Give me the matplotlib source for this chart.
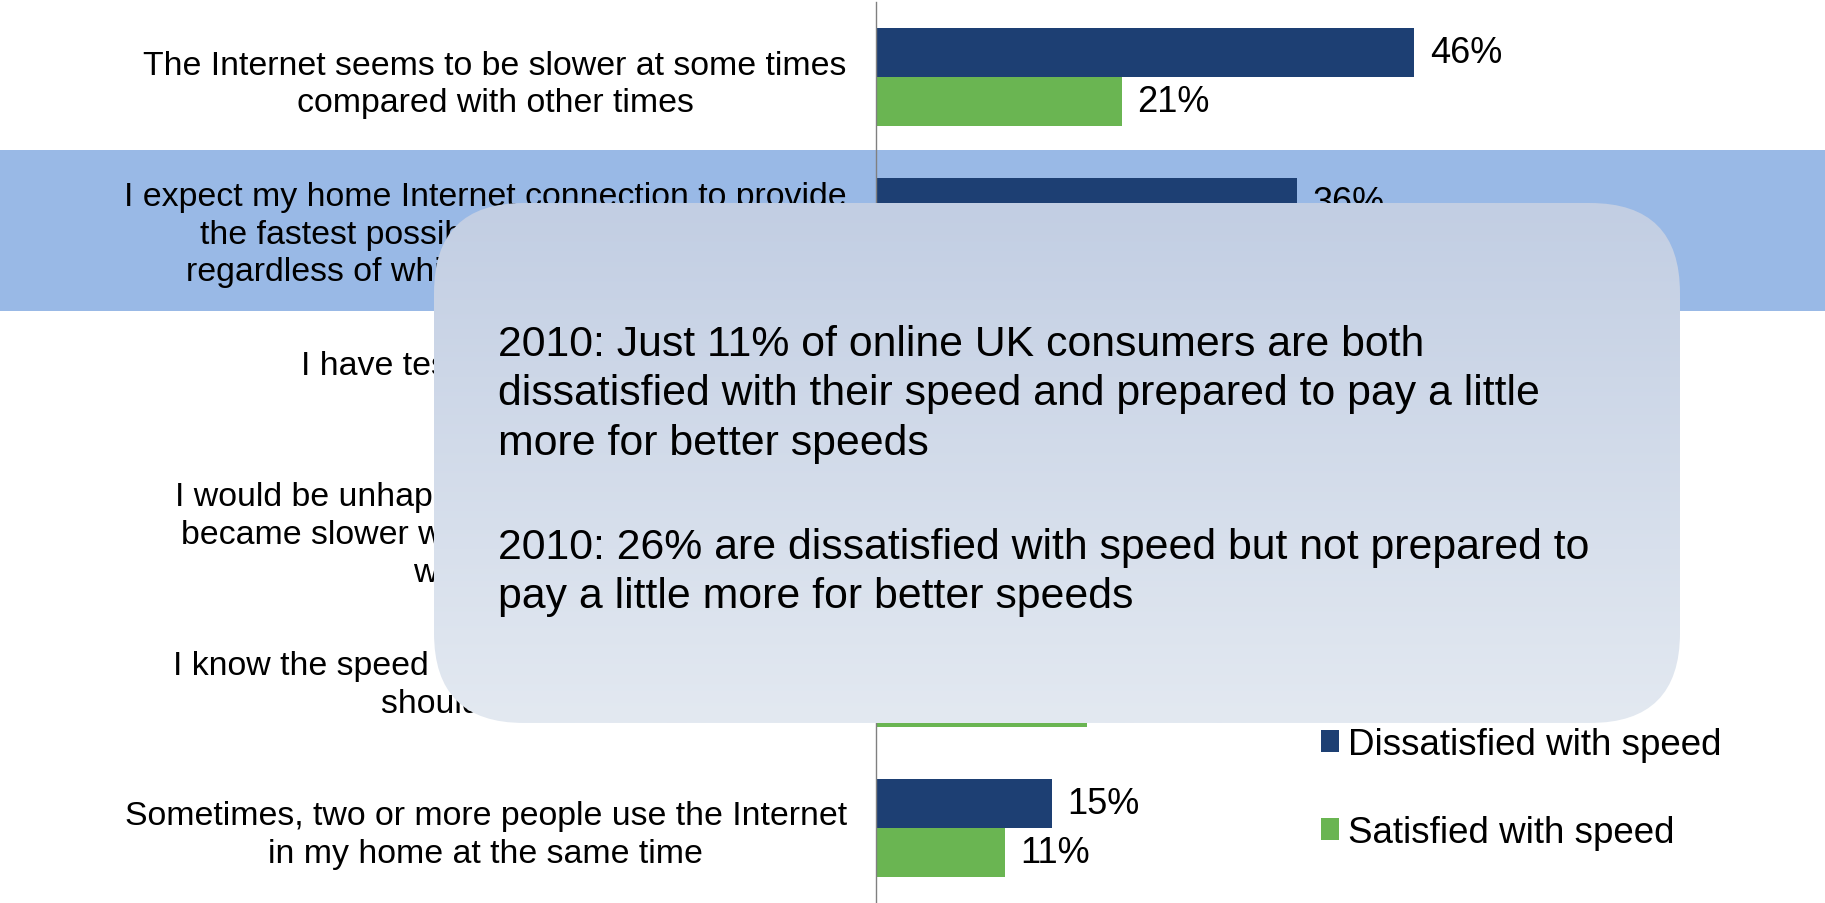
import numpy as np
import matplotlib
matplotlib.use("Agg")
import matplotlib.pyplot as plt
import matplotlib.transforms as mtransforms
from matplotlib.patches import Rectangle, FancyBboxPatch

plt.rcParams['font.family'] = ['Liberation Sans', 'DejaVu Sans']

categories = [
    "The Internet seems to be slower at some times\ncompared with other times",
    "I expect my home Internet connection to provide\nthe fastest possible speed at all times,\nregardless of which websites I am using",
    "I have tested my Internet connection\nspeed",
    "I would be unhappy if my Internet connection\nbecame slower when using certain websites\nweb services",
    "I know the speed that my Internet connection\nshould be getting",
    "Sometimes, two or more people use the Internet\nin my home at the same time",
]
dissatisfied = [46, 36, 30, 27, 24, 15]
satisfied = [21, 19, 17, 16, 18, 11]
series_names = ["Dissatisfied with speed", "Satisfied with speed"]

callout_1 = ("2010: Just 11% of online UK consumers are both\n"
             "dissatisfied with their speed and prepared to pay a little\n"
             "more for better speeds")
callout_2 = ("2010: 26% are dissatisfied with speed but not prepared to\n"
             "pay a little more for better speeds")

dark = '#1d3f73'
green = '#6ab552'
band = '#99b9e6'
box_top = np.array([194, 206, 227]) / 255
box_bot = np.array([227, 233, 241]) / 255

W, H = 1825, 904
fig = plt.figure(figsize=(W / 100, H / 100), dpi=100)
fig.patch.set_facecolor('white')

ax = fig.add_axes([876 / W, 0, 714 / W, 901 / H])
ax.set_facecolor('none')

y = np.arange(len(categories))
h = 0.327
b1 = ax.barh(y - h / 2, dissatisfied, height=h, color=dark, label=series_names[0])
b2 = ax.barh(y + h / 2, satisfied, height=h, color=green, label=series_names[1])

for bars, vals in ((b1, dissatisfied), (b2, satisfied)):
    for bar, v in zip(bars, vals):
        ax.annotate(f"{v}%", (bar.get_width(), bar.get_y() + bar.get_height() / 2),
                    xytext=(11, 0), textcoords='offset points',
                    va='center', ha='left', fontsize=26)

ax.set_xlim(0, 61)
ax.set_ylim(5.5, -0.5)
ax.set_xticks([])
ax.set_yticks(y)
ax.set_yticklabels(categories, fontsize=24.4)
for lab in ax.get_yticklabels():
    lab.set_multialignment('center')
    lab.set_linespacing(1.28)
ax.tick_params(axis='y', length=0, pad=21)
for s in ('top', 'right', 'bottom'):
    ax.spines[s].set_visible(False)
ax.spines['left'].set_color('#808080')
ax.spines['left'].set_linewidth(1)

# highlight band behind the second category
tr = mtransforms.blended_transform_factory(fig.transFigure, ax.transData)
fig.add_artist(Rectangle((0, 1.02 - 0.535), 1, 1.07, transform=tr,
                         facecolor=band, edgecolor='none', zorder=-1))

fig.legend(handles=[b1, b2], labels=series_names, loc='upper left',
           bbox_to_anchor=(1321 / W, 1 - 728 / H), frameon=False,
           fontsize=26.5, handlelength=0.5, handleheight=0.53,
           handletextpad=0.245, labelspacing=1.44, borderpad=0,
           borderaxespad=0)

# rounded callout box with vertical gradient
bx0, by0, bx1, by1 = 434, 204, 1680, 724
bax = fig.add_axes([bx0 / W, 1 - by1 / H, (bx1 - bx0) / W, (by1 - by0) / H], zorder=5)
bax.axis('off')
bw, bh = bx1 - bx0, by1 - by0
bax.set_xlim(0, bw)
bax.set_ylim(0, bh)
t = np.linspace(0, 1, 256)[:, None]
grad = box_top[None, None, :] * (1 - t[:, :, None]) + box_bot[None, None, :] * t[:, :, None]
im = bax.imshow(grad, extent=[0, bw, 0, bh], aspect='auto', origin='upper')
shape = FancyBboxPatch((0, 0), bw, bh, boxstyle="round,pad=0,rounding_size=90",
                       facecolor='none', edgecolor='none', transform=bax.transData)
bax.add_patch(shape)
im.set_clip_path(shape)
bax.text(64, bh - 341 + by0 + 16, callout_1, fontsize=30.8, va='top', ha='left',
         linespacing=1.30)
bax.text(64, bh - 544 + by0 + 16, callout_2, fontsize=30.8, va='top', ha='left',
         linespacing=1.30)

fig.savefig('out.png', dpi=100)
